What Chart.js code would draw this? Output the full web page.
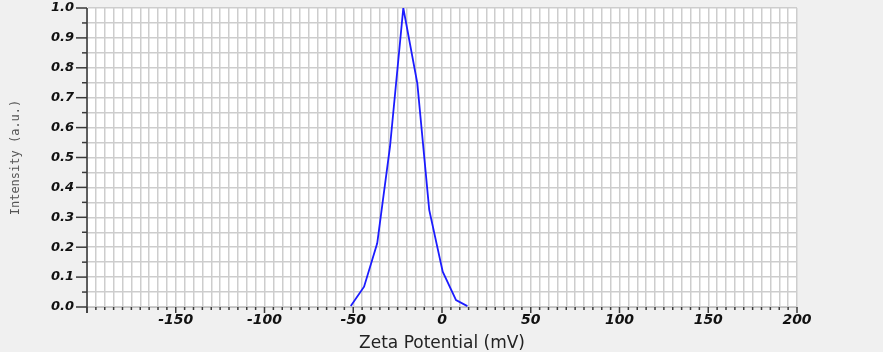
<!DOCTYPE html>
<html>
<head>
<meta charset="utf-8">
<script src="https://cdn.jsdelivr.net/npm/chart.js@4/dist/chart.umd.min.js"></script>
<style>
    html, body { margin: 0; padding: 0; background: #f0f0f0; }
    #wrap { width: 883px; height: 352px; }
</style>
</head>
<body>
<div id="wrap"><canvas id="zeta"></canvas></div>
<script>
// Zeta potential distribution
const zetaMv = [-51.4, -43.9, -36.5, -29.3, -21.8, -13.9, -7.2, 0.4, 7.9, 14.3];
const intensity = [0.003, 0.068, 0.213, 0.536, 1.0, 0.748, 0.325, 0.118, 0.023, 0.003];

const xMin = -200, xMax = 200, xStep = 5, xMajor = 50;
const yMin = 0, yMax = 1, yStep = 0.05;

const tickFont = { family: 'DejaVu Sans', size: 13, weight: 'bold', style: 'italic' };

// page background + white plot area, tick marks
const backdrop = {
    id: 'backdrop',
    beforeDraw(chart) {
        const { ctx, chartArea: a } = chart;
        ctx.save();
        ctx.fillStyle = '#f0f0f0';
        ctx.fillRect(0, 0, chart.width, chart.height);
        ctx.fillStyle = '#ffffff';
        ctx.fillRect(a.left, a.top, a.right - a.left, a.bottom - a.top);
        ctx.restore();
    },
    afterDatasetsDraw(chart) {
        const { ctx, chartArea: a, scales } = chart;
        ctx.save();
        ctx.strokeStyle = '#3a3a3a';
        ctx.lineWidth = 1.5;
        scales.y.ticks.forEach(t => {
            const y = scales.y.getPixelForValue(t.value);
            const major = Math.round(t.value * 100) % 10 === 0;
            ctx.beginPath();
            ctx.moveTo(a.left - (major ? 11 : 5), y);
            ctx.lineTo(a.left, y);
            ctx.stroke();
        });
        scales.x.ticks.forEach(t => {
            const x = scales.x.getPixelForValue(t.value);
            const major = t.value % xMajor === 0;
            ctx.beginPath();
            ctx.moveTo(x, a.bottom);
            ctx.lineTo(x, a.bottom + (major ? 6 : 3));
            ctx.stroke();
        });
        ctx.beginPath();
        ctx.moveTo(a.left, a.top);
        ctx.lineTo(a.left, a.bottom + 6);
        ctx.stroke();
        ctx.restore();
    }
};

new Chart(document.getElementById('zeta'), {
    type: 'line',
    data: {
        datasets: [{
            data: zetaMv.map((x, i) => ({ x: x, y: intensity[i] })),
            borderColor: '#1c1cff',
            borderWidth: 1.8,
            pointRadius: 0,
            tension: 0,
            fill: false
        }]
    },
    options: {
        responsive: true,
        maintainAspectRatio: false,
        animation: false,
        layout: { padding: { top: 8, right: 86, left: 0, bottom: 0 } },
        plugins: {
            legend: { display: false },
            tooltip: { enabled: false }
        },
        scales: {
            x: {
                type: 'linear',
                min: xMin,
                max: xMax,
                afterFit: s => { s.height = 45; s.paddingLeft = 0; s.paddingRight = 0; },
                border: { display: true, color: '#c0c0c0', width: 1 },
                grid: { color: '#cdcdcd', lineWidth: 1.5, drawTicks: false },
                ticks: {
                    stepSize: xStep,
                    autoSkip: false,
                    maxTicksLimit: 200,
                    maxRotation: 0,
                    padding: 5,
                    color: '#111',
                    font: { ...tickFont, size: 14 },
                    callback: v => (v % xMajor === 0 && v !== xMin) ? String(v) : ''
                },
                title: {
                    display: true,
                    text: 'Zeta Potential (mV)',
                    color: '#222',
                    font: { family: 'DejaVu Sans', size: 17 },
                    padding: { top: 0, bottom: -2 }
                }
            },
            y: {
                type: 'linear',
                min: yMin,
                max: yMax,
                afterFit: s => { s.width = 87; s.paddingTop = 0; s.paddingBottom = 0; },
                border: { display: true, color: '#c0c0c0', width: 1 },
                grid: { color: '#cdcdcd', lineWidth: 1.5, drawTicks: false },
                ticks: {
                    stepSize: yStep,
                    autoSkip: false,
                    maxTicksLimit: 100,
                    padding: 13,
                    color: '#111',
                    font: tickFont,
                    callback: v => Math.round(v * 100) % 10 === 0 ? v.toFixed(1) : ''
                },
                title: {
                    display: true,
                    text: 'Intensity (a.u.)',
                    color: '#555',
                    font: { family: 'DejaVu Sans Mono', size: 12 },
                    padding: { top: 9, bottom: 0 }
                }
            }
        }
    },
    plugins: [backdrop]
});
</script>
</body>
</html>
